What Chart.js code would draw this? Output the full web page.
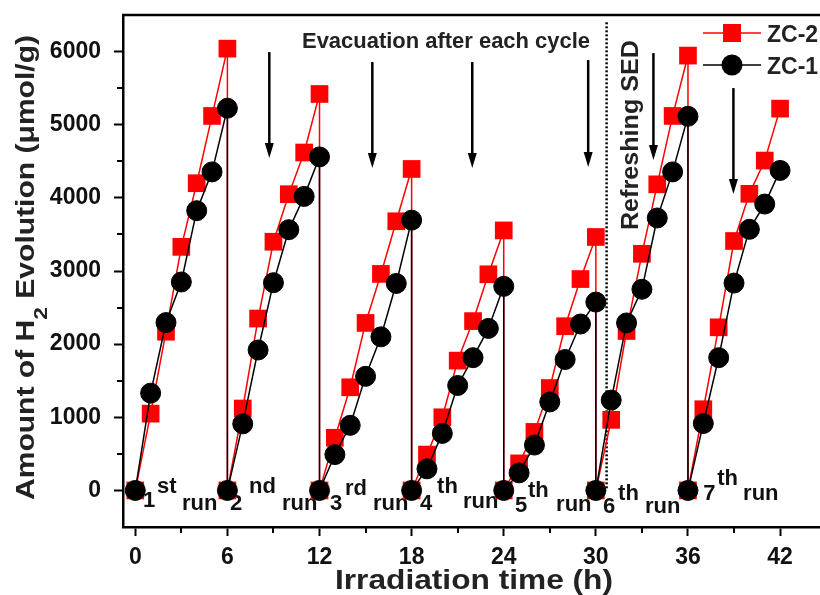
<!DOCTYPE html>
<html>
<head>
<meta charset="utf-8">
<script src="https://cdn.jsdelivr.net/npm/chart.js@4.4.1/dist/chart.umd.min.js"></script>
<style>
  html, body { margin: 0; padding: 0; background: #fff; overflow: hidden; }
  #wrap { width: 820px; height: 595px; }
</style>
</head>
<body>
<div id="wrap"><canvas id="chart" width="820" height="595"></canvas></div>
<script>
// irradiation time (h), each run restarts from 0 at the same hour the previous one ends
const hours = [
  0, 1, 2, 3, 4, 5, 6,
  6, 7, 8, 9, 10, 11, 12,
  12, 13, 14, 15, 16, 17, 18,
  18, 19, 20, 21, 22, 23, 24,
  24, 25, 26, 27, 28, 29, 30,
  30, 31, 32, 33, 34, 35, 36,
  36, 37, 38, 39, 40, 41, 42
];
const zc2 = [
  0, 1050, 2170, 3330, 4200, 5120, 6040,
  0, 1120, 2350, 3400, 4050, 4620, 5420,
  0, 720, 1410, 2290, 2960, 3680, 4395,
  0, 490, 1000, 1775, 2315, 2955, 3555,
  0, 370, 800, 1400, 2245, 2890, 3465,
  0, 965, 2180, 3235, 4185, 5120, 5945,
  0, 1110, 2230, 3410, 4055, 4510, 5220
];
const zc1 = [
  0, 1330, 2295, 2850, 3825, 4355, 5225,
  0, 910, 1920, 2840, 3565, 4020, 4560,
  0, 490, 890, 1560, 2100, 2830, 3695,
  0, 295, 780, 1435, 1815, 2215, 2790,
  0, 240, 620, 1210, 1790, 2275, 2575,
  0, 1235, 2290, 2750, 3725, 4355, 5115,
  0, 915, 1815, 2835, 3570, 3915, 4375
];
const seriesNames = ['ZC-2', 'ZC-1'];
const xTicks = [0, 6, 12, 18, 24, 30, 36, 42];
const xMinor = [3, 9, 15, 21, 27, 33, 39];
const yTicks = [0, 1000, 2000, 3000, 4000, 5000, 6000];
const yMinor = [500, 1500, 2500, 3500, 4500, 5500];

// run labels: number, ordinal suffix
const runNums = ['1', '2', '3', '4', '5', '6', '7'];
const runSups = ['st', 'nd', 'rd', 'th', 'th', 'th', 'th'];

const FONT = '"Liberation Sans", Arial, sans-serif';
const RED = '#ff0000';
const INK = '#111';

// where the annotation text sits (hours / umol g-1)
const runPos = [
  { nx: 0.5,   nb: -227, sx: 1.41,  sb: -36,  rx: 3.04,  rb: -268 },
  { nx: 6.17,  nb: -268, sx: 7.41,  sb: -36,  rx: 9.56,  rb: -268 },
  { nx: 12.68, nb: -268, sx: 13.66, sb: -63,  rx: 15.48, rb: -268 },
  { nx: 18.55, nb: -268, sx: 19.66, sb: -36,  rx: 21.35, rb: -241 },
  { nx: 24.74, nb: -295, sx: 25.58, sb: -90,  rx: 27.41, rb: -280 },
  { nx: 30.47, nb: -309, sx: 31.45, sb: -131, rx: 33.2,  rb: -309 },
  { nx: 36.99, nb: -131, sx: 37.9,  sb: 74,   rx: 39.59, rb: -131 }
];
const arrows = [
  [8.73, 5993, 4545],
  [15.44, 5857, 4408],
  [21.95, 5857, 4408],
  [29.5, 5884, 4422],
  [33.75, 5979, 4517],
  [38.96, 5501, 4052]
];
const divider = { x: 30.7, top: 6400, bottom: 0 };

function fitText(ctx, text, x, y, width) {
  const w = ctx.measureText(text).width;
  ctx.save();
  ctx.translate(x, y);
  ctx.scale(width / w, 1);
  ctx.fillText(text, 0, 0);
  ctx.restore();
}

const overlay = {
  id: 'overlay',
  beforeDatasetsDraw(chart) {
    const { ctx, scales: { x, y } } = chart;
    ctx.save();
    // dotted line: fresh sacrificial electron donor
    ctx.strokeStyle = '#000';
    ctx.lineWidth = 2.5;
    ctx.setLineDash([2, 2]);
    ctx.beginPath();
    ctx.moveTo(x.getPixelForValue(divider.x), y.getPixelForValue(divider.top));
    ctx.lineTo(x.getPixelForValue(divider.x), y.getPixelForValue(divider.bottom));
    ctx.stroke();
    ctx.setLineDash([]);

    ctx.fillStyle = INK;
    ctx.textAlign = 'left';
    ctx.textBaseline = 'alphabetic';
    ctx.font = 'bold 22px ' + FONT;
    runPos.forEach((p, i) => {
      ctx.fillText(runNums[i], x.getPixelForValue(p.nx), y.getPixelForValue(p.nb));
      ctx.fillText(runSups[i], x.getPixelForValue(p.sx), y.getPixelForValue(p.sb));
      ctx.fillText('run', x.getPixelForValue(p.rx), y.getPixelForValue(p.rb));
    });
    ctx.restore();
  },
  afterDraw(chart) {
    const { ctx, chartArea: a, scales: { x, y } } = chart;
    ctx.save();
    // top frame line
    ctx.strokeStyle = '#000';
    ctx.lineWidth = 2.5;
    ctx.beginPath();
    ctx.moveTo(a.left - 1, a.top);
    ctx.lineTo(a.right, a.top);
    ctx.stroke();

    // minor ticks
    ctx.lineWidth = 2;
    ctx.beginPath();
    xMinor.forEach(v => {
      const px = Math.round(x.getPixelForValue(v));
      ctx.moveTo(px, a.bottom);
      ctx.lineTo(px, a.bottom + 6);
    });
    yMinor.forEach(v => {
      const py = Math.round(y.getPixelForValue(v));
      ctx.moveTo(a.left - 6, py);
      ctx.lineTo(a.left, py);
    });
    ctx.stroke();

    // arrows
    ctx.fillStyle = '#000';
    arrows.forEach(([h, top, bot]) => {
      const px = x.getPixelForValue(h);
      const y1 = y.getPixelForValue(top);
      const y2 = y.getPixelForValue(bot);
      ctx.lineWidth = 2.5;
      ctx.beginPath();
      ctx.moveTo(px, y1);
      ctx.lineTo(px, y2 - 12);
      ctx.stroke();
      ctx.beginPath();
      ctx.moveTo(px - 4.5, y2 - 15);
      ctx.lineTo(px + 4.5, y2 - 15);
      ctx.lineTo(px, y2);
      ctx.closePath();
      ctx.fill();
    });

    // texts
    ctx.fillStyle = '#222';
    ctx.textAlign = 'left';
    ctx.textBaseline = 'alphabetic';
    ctx.font = 'bold 22px ' + FONT;
    fitText(ctx, 'Evacuation after each cycle', x.getPixelForValue(10.86), y.getPixelForValue(6048), 288);

    ctx.save();
    ctx.translate(x.getPixelForValue(32.75), y.getPixelForValue(3560));
    ctx.rotate(-Math.PI / 2);
    ctx.font = 'bold 23px ' + FONT;
    fitText(ctx, 'Refreshing SED', 0, 0, 190);
    ctx.restore();

    // legend
    const leg = [
      { name: seriesNames[0], color: RED, style: 'rect', ly: 33 },
      { name: seriesNames[1], color: '#000', style: 'circle', ly: 65 }
    ];
    leg.forEach(l => {
      ctx.strokeStyle = l.color;
      ctx.fillStyle = l.color;
      ctx.lineWidth = 1.5;
      ctx.beginPath();
      ctx.moveTo(703, l.ly);
      ctx.lineTo(761, l.ly);
      ctx.stroke();
      if (l.style === 'rect') {
        ctx.fillRect(732 - 9, l.ly - 9, 18, 18);
      } else {
        ctx.beginPath();
        ctx.arc(732, l.ly, 10.5, 0, Math.PI * 2);
        ctx.fill();
      }
      ctx.fillStyle = '#222';
      ctx.font = 'bold 23px ' + FONT;
      ctx.fillText(l.name, 767, l.ly + 9);
    });

    // x title
    ctx.fillStyle = '#222';
    ctx.font = 'bold 28px ' + FONT;
    fitText(ctx, 'Irradiation time (h)', 335, 589, 278);

    // y title with subscript
    ctx.save();
    ctx.translate(34, 500);
    ctx.rotate(-Math.PI / 2);
    ctx.font = 'bold 25px ' + FONT;
    const p1 = 'Amount of H', p3 = ' Evolution (\u03bcmol/g)';
    const w1 = ctx.measureText(p1).width;
    const w3 = ctx.measureText(p3).width;
    ctx.font = 'bold 19px ' + FONT;
    const w2 = ctx.measureText('2').width;
    ctx.scale(465 / (w1 + w2 + w3), 1);
    ctx.font = 'bold 25px ' + FONT;
    ctx.fillText(p1, 0, 0);
    ctx.fillText(p3, w1 + w2, 0);
    ctx.font = 'bold 19px ' + FONT;
    ctx.fillText('2', w1, 13);
    ctx.restore();

    ctx.restore();
  }
};

const tickFont = { family: FONT, size: 23, weight: 'bold' };

new Chart(document.getElementById('chart').getContext('2d'), {
  type: 'line',
  data: {
    datasets: [
      {
        label: seriesNames[0],
        data: hours.map((h, i) => ({ x: h, y: zc2[i] })),
        borderColor: RED,
        backgroundColor: RED,
        borderWidth: 1.5,
        pointStyle: 'rect',
        pointRadius: 12.5,
        pointBorderWidth: 0,
        order: 1
      },
      {
        label: seriesNames[1],
        data: hours.map((h, i) => ({ x: h, y: zc1[i] })),
        borderColor: '#000',
        backgroundColor: '#000',
        borderWidth: 1.5,
        pointStyle: 'circle',
        pointRadius: 10,
        pointBorderWidth: 1,
        order: 0
      }
    ]
  },
  options: {
    responsive: false,
    animation: false,
    layout: { autoPadding: false, padding: { top: 15, right: 0, left: 0, bottom: 0 } },
    plugins: { legend: { display: false }, tooltip: { enabled: false } },
    scales: {
      x: {
        type: 'linear',
        min: -0.8,
        max: 44.6,
        afterBuildTicks: (axis) => { axis.ticks = xTicks.map(v => ({ value: v })); },
        afterFit: (axis) => { axis.height = 68; axis.paddingLeft = 0; axis.paddingRight = 0; },
        ticks: { font: tickFont, color: INK, padding: 8, maxRotation: 0, autoSkip: false, callback: (v) => String(v) },
        grid: { drawOnChartArea: false, drawTicks: true, tickLength: 9, tickWidth: 2, tickColor: '#000' },
        border: { display: true, color: '#000', width: 2.5 }
      },
      y: {
        min: -500,
        max: 6500,
        afterBuildTicks: (axis) => { axis.ticks = yTicks.map(v => ({ value: v })); },
        afterFit: (axis) => { axis.width = 123; axis.paddingTop = 0; axis.paddingBottom = 0; },
        ticks: { font: tickFont, color: INK, padding: 13, callback: (v) => String(v) },
        grid: { drawOnChartArea: false, drawTicks: true, tickLength: 9, tickWidth: 2, tickColor: '#000' },
        border: { display: true, color: '#000', width: 2.5 }
      }
    }
  },
  plugins: [overlay]
});
</script>
</body>
</html>
